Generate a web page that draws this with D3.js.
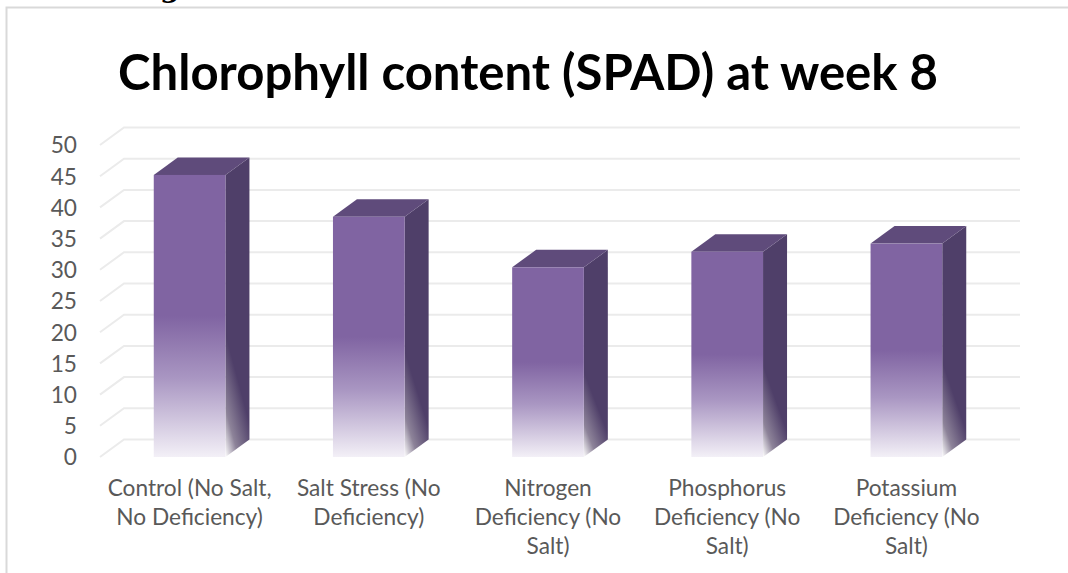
<!DOCTYPE html>
<html><head><meta charset="utf-8">
<script src="https://cdn.jsdelivr.net/npm/d3@7"></script>
<style>body{margin:0;background:#fff}svg{display:block}</style>
</head><body>
<svg id="chart" width="1068" height="573"></svg>
<script>
const categories = ["Control (No Salt, No Deficiency)", "Salt Stress (No Deficiency)", "Nitrogen Deficiency (No Salt)", "Phosphorus Deficiency (No Salt)", "Potassium Deficiency (No Salt)"];
const categoryLines = [
  ["Control (No Salt,", "No Deficiency)"],
  ["Salt Stress (No", "Deficiency)"],
  ["Nitrogen", "Deficiency (No", "Salt)"],
  ["Phosphorus", "Deficiency (No", "Salt)"],
  ["Potassium", "Deficiency (No", "Salt)"]
];
const values = [45.2, 38.5, 30.4, 32.9, 34.2];
const yTicks = [0, 5, 10, 15, 20, 25, 30, 35, 40, 45, 50];
const title = "Chlorophyll content (SPAD) at week 8";

const svg = d3.select("#chart");
const FONT = "Lato, 'Open Sans', sans-serif";
const dx = 24, dy = -17.5;
const x = d3.scaleBand().domain(categories).range([100, 996]).paddingInner(0.6).paddingOuter(0.3);
const y = d3.scaleLinear().domain([0, 50]).range([457, 145]);

// border
svg.append("path").attr("d", "M6.5,573 L6.5,7.5 L1068,7.5").attr("fill", "none").attr("stroke", "#d9d9d9").attr("stroke-width", 2);
svg.append("text").attr("x", 160).attr("y", -3).attr("font-family", "DejaVu Serif").attr("font-weight", "bold").attr("font-size", 28).attr("fill", "#000").text("g");

// measure helper for label font size
const probe = svg.append("text").attr("font-family", FONT).attr("font-size", 20).text("Control (No Salt,");
const labelSize = 20 * 164 / probe.node().getComputedTextLength();
probe.remove();

// title
const t = svg.append("text").attr("x", 528).attr("y", 90).attr("text-anchor", "middle")
  .attr("font-family", FONT).attr("font-weight", "bold").attr("font-size", 44).attr("fill", "#000").text(title);
const tw = t.node().getComputedTextLength();
t.attr("font-size", 44 * 820 / tw);

// gridlines
const grid = svg.append("g");
yTicks.forEach(v => {
  const yf = y(v);
  grid.append("path")
    .attr("d", `M100,${yf} L${100 + dx},${yf + dy} L1020,${yf + dy}`)
    .attr("fill", "none").attr("stroke", "#ebebeb").attr("stroke-width", 2);
});

// y axis labels
svg.append("g").selectAll("text").data(yTicks).join("text")
  .attr("x", 77).attr("y", d => y(d)).attr("dy", "0.37em").attr("text-anchor", "end")
  .attr("font-family", FONT).attr("font-size", labelSize).attr("fill", "#595959").text(d => d);

// gradients
const defs = svg.append("defs");
const gf = defs.append("linearGradient").attr("id", "gFront").attr("x1", 0).attr("y1", 0).attr("x2", 0).attr("y2", 1);
[[0, "#8064a2"], [0.5, "#8064a2"], [0.72, "#a996c2"], [1, "#f3f0f7"]].forEach(s =>
  gf.append("stop").attr("offset", s[0]).attr("stop-color", s[1]));
const gs = defs.append("linearGradient").attr("id", "gSide").attr("x1", 0.3).attr("y1", 0).attr("x2", 0).attr("y2", 1);
[[0, "#4f3f69"], [0.62, "#4f3f69"], [0.85, "#8d8399"], [1, "#ffffff"]].forEach(s =>
  gs.append("stop").attr("offset", s[0]).attr("stop-color", s[1]));

// bars
const bars = svg.append("g").selectAll("g").data(values).join("g");
bars.each(function(v, i) {
  const g = d3.select(this);
  const x0 = x(categories[i]), x1 = x0 + x.bandwidth();
  const top = y(v), bot = y(0);
  g.append("path").attr("d", `M${x1},${top} L${x1 + dx},${top + dy} L${x1 + dx},${bot + dy} L${x1},${bot} Z`).attr("fill", "url(#gSide)");
  g.append("path").attr("d", `M${x0},${top} L${x0 + dx},${top + dy} L${x1 + dx},${top + dy} L${x1},${top} Z`).attr("fill", "#5f4b7b");
  g.append("rect").attr("x", x0).attr("y", top).attr("width", x.bandwidth()).attr("height", bot - top).attr("fill", "url(#gFront)");
});

// category labels
svg.append("g").selectAll("text").data(categoryLines).join("text")
  .attr("text-anchor", "middle").attr("font-family", FONT).attr("font-size", labelSize).attr("fill", "#595959")
  .each(function(lines, i) {
    const cx = x(categories[i]) + x.bandwidth() / 2;
    d3.select(this).selectAll("tspan").data(lines).join("tspan")
      .attr("x", cx).attr("y", (d, j) => 496 + j * 29).text(d => d);
  });
</script>
</body></html>
